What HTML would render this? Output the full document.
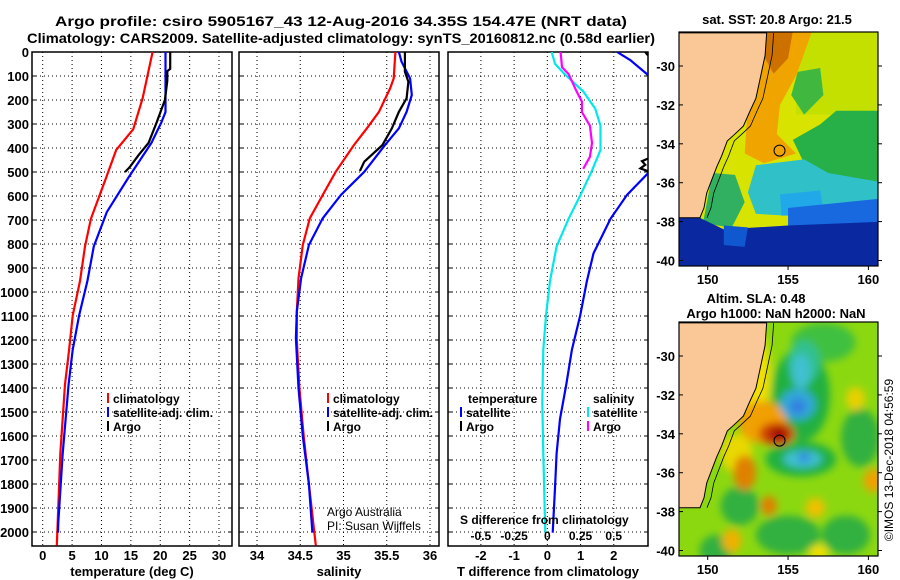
<!DOCTYPE html>
<html><head><meta charset="utf-8">
<style>
html,body{margin:0;padding:0;background:#fff;}
svg{display:block;font-family:"Liberation Sans",sans-serif;}
.b{font-weight:bold;font-size:13px;}
</style></head>
<body>
<svg id="fig" width="900" height="580" viewBox="0 0 900 580" xmlns="http://www.w3.org/2000/svg">
<defs>
<clipPath id="cp1"><rect x="32" y="52" width="200" height="494"/></clipPath>
<clipPath id="cp2"><rect x="239" y="52" width="200" height="494"/></clipPath>
<clipPath id="cp3"><rect x="448" y="52" width="200" height="494"/></clipPath>
<clipPath id="cm1"><rect x="679" y="32" width="199" height="234"/></clipPath>
<clipPath id="cm2"><rect x="679" y="322" width="199" height="234"/></clipPath>
<filter id="blur" x="-20%" y="-20%" width="140%" height="140%"><feGaussianBlur stdDeviation="4"/></filter>
</defs>
<text class="b" x="55" y="26" textLength="572" lengthAdjust="spacingAndGlyphs" style="font-size:14px">Argo profile: csiro 5905167_43 12-Aug-2016 34.35S 154.47E (NRT data)</text>
<text class="b" x="27" y="43" textLength="628" lengthAdjust="spacingAndGlyphs" style="font-size:14px">Climatology: CARS2009. Satellite-adjusted climatology: synTS_20160812.nc (0.58d earlier)</text>
<g id="g1"></g>
<g id="g2"></g>
<g id="g3"></g>
<g id="m1"></g>
<g id="m2"></g>
<text transform="translate(893,460) rotate(-90)" text-anchor="middle" font-size="12">©IMOS 13-Dec-2018 04:56:59</text>
</svg>
<script>
// ---- data ----
const depthTicks=[0,100,200,300,400,500,600,700,800,900,1000,1100,1200,1300,1400,1500,1600,1700,1800,1900,2000];
const tempTicks=[0,5,10,15,20,25,30];
const salTicks=[34,34.5,35,35.5,36];
const tdiffTicks=[-2,-1,0,1,2];
const sdiffTicks=[-0.5,-0.25,0,0.25,0.5];
const sdiffLabels=["-0.5","-0.25","0","0.25","0.5"];

const tDepthClim=[0,193,322,408,523,695,810,954,1098,1241,1385,1673,1960,2056];
const tClim=[18.7,17.0,15.4,12.5,10.8,8.2,7.2,6.35,5.1,4.5,3.8,3.0,2.55,2.4];
const tDepthSat=[0,250,293,379,523,667,810,954,1098,1241,1385,1673,1960,2003];
const tSat=[20.9,20.9,20.2,18.5,14.6,10.9,8.7,7.6,6.2,5.1,4.4,3.4,2.65,2.6];
const tDepthArgo=[0,70,80,120,200,293,379,430,480,500];
const tArgo=[21.7,21.7,21.2,21.2,20.8,19.4,18.0,16.3,14.8,14.0];

const sDepthClim=[0,110,151,249,318,388,499,596,693,804,943,1082,1200,1400,1600,1800,2056];
const sClim=[35.60,35.58,35.54,35.41,35.27,35.12,34.91,34.76,34.61,34.53,34.48,34.46,34.46,34.49,34.54,34.60,34.68];
const sDepthSat=[0,40,110,179,249,318,388,499,596,693,804,943,1082,1193,1400,1600,1800,2003];
const sSat=[35.64,35.67,35.77,35.79,35.73,35.64,35.48,35.24,34.97,34.76,34.60,34.51,34.46,34.45,34.48,34.53,34.60,34.64];
const sDepthArgo=[0,82,124,193,249,318,388,457,496];
const sArgo=[35.71,35.71,35.75,35.73,35.64,35.56,35.45,35.24,35.19];

const dDepthTSat=[0,34,92,193,322,408,501,595,695,839,954,1098,1241,1385,1529,1673,1817,2003];
const dTSat=[2.1,2.5,3.0,3.9,4.8,4.0,3.06,2.4,1.9,1.39,1.19,0.99,0.74,0.57,0.38,0.28,0.23,0.16];
const dDepthTArgoTop=[0,10,20];
const dTArgoTop=[2.95,3.0,3.1];
const dDepthTArgoDeep=[440,455,470,485,500];
const dTArgoDeep=[3.1,2.85,2.95,2.8,3.1];
const dDepthSSat=[0,49,92,164,236,307,408,494,595,695,810,954,1098,1241,1457,1673,2003];
const dSSat=[0.033,0.058,0.13,0.27,0.36,0.40,0.40,0.336,0.25,0.16,0.07,0.02,-0.01,-0.03,-0.038,-0.03,-0.015];
const dDepthSArgo=[0,63,92,164,207,250,307,379,437,487];
const dSArgo=[0.10,0.11,0.16,0.22,0.26,0.26,0.32,0.336,0.32,0.27];

const latTicks=[-30,-32,-34,-36,-38,-40];
const lonTicks=[150,155,160];
const coastLon=[148.2,153.67,153.57,153.25,153.0,152.63,152.22,151.6,151.22,150.87,150.56,150.25,149.94,149.77,149.52,148.2];
const coastLat=[-28.3,-28.3,-29.46,-30.70,-31.66,-32.32,-33.09,-33.57,-33.85,-34.62,-35.19,-35.86,-36.53,-37.29,-37.80,-37.80];
const argoLon=154.47, argoLat=-34.35;

// ---- helpers ----
const NS="http://www.w3.org/2000/svg";
function mk(tag,attrs,parent){const e=document.createElementNS(NS,tag);for(const k in attrs)e.setAttribute(k,attrs[k]);parent.appendChild(e);return e;}
const Y0=52,Y1=546;
function yD(d){return Y0+d*0.24;}

function panel(g,x0,x1,vmin,vmax,ticks,labels,xtitle,cp){
  const sx=v=>x0+(v-vmin)/(vmax-vmin)*(x1-x0);
  depthTicks.forEach(d=>{const y=yD(d);
    const l=mk('line',{x1:x0,x2:x1,y1:y,y2:y,stroke:'#000','stroke-width':1,'stroke-dasharray':'1 3'},g);
    
    
    mk('line',{x1:x0,x2:x0+4,y1:y,y2:y,stroke:'#000'},g);
    mk('line',{x1:x1-4,x2:x1,y1:y,y2:y,stroke:'#000'},g);
  });
  ticks.forEach((v,i)=>{const x=sx(v);
    const l=mk('line',{x1:x,x2:x,y1:Y0,y2:Y1,stroke:'#000','stroke-width':1,'stroke-dasharray':'1 3'},g);
    
    
    const t=mk('text',{x:x,y:560,'text-anchor':'middle',class:'b'},g);
    t.textContent=labels[i];
    
    
  });
  const r=mk('rect',{x:x0,y:Y0,width:x1-x0,height:Y1-Y0,fill:'none',stroke:'#000','stroke-width':1.5},g);
  
  
  const t=mk('text',{x:(x0+x1)/2,y:576,'text-anchor':'middle',class:'b'},g);
  t.textContent=xtitle;
  
  
  return sx;
}
function series(g,sx,depths,vals,color,cp,name,mult){
  mult=mult||1;
  const pts=depths.map((d,i)=>sx(vals[i]*mult).toFixed(1)+','+yD(d).toFixed(1)).join(' ');
  const p=mk('polyline',{points:pts,fill:'none',stroke:color,'stroke-width':2.2,'clip-path':'url(#'+cp+')'},g);
  
  
}
function legend(g,x,y,color,label,name){
  if(color)mk('line',{x1:x,x2:x,y1:y-10,y2:y,stroke:color,'stroke-width':2},g);
  const t=mk('text',{x:x+5,y:y,'font-size':'12px','font-weight':'bold'},g);
  t.textContent=label;
  
  
}

const g1=document.getElementById('g1');
depthTicks.forEach(d=>{const t=mk('text',{x:29,y:yD(d)+5,'text-anchor':'end',class:'b'},g1);
  t.textContent=String(d);
  
  });

const sx1=panel(g1,32,232,-1.82,32.21,tempTicks,tempTicks.map(String),'temperature (deg C)','cp1');
series(g1,sx1,tDepthClim,tClim,'#ff0000','cp1','temp-climatology-line');
series(g1,sx1,tDepthSat,tSat,'#0000ff','cp1','temp-satellite-line');
series(g1,sx1,tDepthArgo,tArgo,'#000000','cp1','temp-argo-line');
legend(g1,108,403,'#ff0000','climatology','legend-climatology');
legend(g1,108,417,'#0000ff','satellite-adj. clim.','legend-satellite');
legend(g1,108,431,'#000','Argo','legend-argo');

const g2=document.getElementById('g2');
const sx2=panel(g2,239,439,33.792,36.104,salTicks,["34","34.5","35","35.5","36"],'salinity','cp2');
series(g2,sx2,sDepthClim,sClim,'#ff0000','cp2','sal-climatology-line');
series(g2,sx2,sDepthSat,sSat,'#0000ff','cp2','sal-satellite-line');
series(g2,sx2,sDepthArgo,sArgo,'#000000','cp2','sal-argo-line');
legend(g2,328,403,'#ff0000','climatology','legend-climatology');
legend(g2,328,417,'#0000ff','satellite-adj. clim.','legend-satellite');
legend(g2,328,431,'#000','Argo','legend-argo');
[['Argo Australia',516],['PI: Susan Wijffels',530]].forEach(a=>{const t=mk('text',{x:327,y:a[1],'font-size':'12px'},g2);
  t.textContent=a[0];
  
  });

const g3=document.getElementById('g3');
const sx3=panel(g3,448,648,-2.99,3.03,tdiffTicks,["-2","-1","0","1","2"],'T difference from climatology','cp3');
series(g3,sx3,dDepthSSat,dSSat,'#00e8e8','cp3','sdiff-satellite-line',4);
series(g3,sx3,dDepthSArgo,dSArgo,'#ff00ff','cp3','sdiff-argo-line',4);
series(g3,sx3,dDepthTSat,dTSat,'#0000ff','cp3','tdiff-satellite-line');
series(g3,sx3,dDepthTArgoTop,dTArgoTop,'#000000','cp3','tdiff-argo-line-top');
series(g3,sx3,dDepthTArgoDeep,dTArgoDeep,'#000000','cp3','tdiff-argo-line-deep');
(function(){const t=mk('text',{x:468,y:403,'font-size':'12px','font-weight':'bold'},g3);t.textContent='temperature';


const s=mk('text',{x:593,y:403,'font-size':'12px','font-weight':'bold'},g3);s.textContent='salinity';

})();
legend(g3,461,417,'#0000ff','satellite','legend-t-satellite');
legend(g3,461,431,'#000','Argo','legend-t-argo');
legend(g3,588,417,'#00e8e8','satellite','legend-s-satellite');
legend(g3,588,431,'#ff00ff','Argo','legend-s-argo');
(function(){const t=mk('text',{x:460,y:524,'font-size':'12px','font-weight':'bold'},g3);t.textContent='S difference from climatology';

})();
sdiffTicks.forEach((v,i)=>{const t=mk('text',{x:sx3(v*4),y:540,'text-anchor':'middle','font-size':'12px','font-weight':'bold'},g3);
  t.textContent=sdiffLabels[i];
  
  });

// ---- maps ----
function map(g,top,cp,title1,drawFn){
  const lx=lon=>707.7+(lon-150)*16.07;
  const ly=lat=>top+34+(-30-lat)*19.45;
  const inner=mk('g',{'clip-path':'url(#'+cp+')'},g);
  drawFn(inner,lx,ly);
  const land=mk('polygon',{points:coastLon.map((v,i)=>lx(v)+','+ly(coastLat[i])).join(' '),fill:'#fac896',stroke:'#000','stroke-width':1},inner);
  
  
  const iso=mk('polyline',{points:coastLon.slice(1,15).map((v,i)=>(lx(v)+7)+','+ly(coastLat[i+1])).join(' '),fill:'none',stroke:'#000','stroke-width':0.8},inner);
  
  
  const c=mk('circle',{cx:lx(argoLon),cy:ly(argoLat),r:5.5,fill:'none',stroke:'#000','stroke-width':1},g);
  
  
  const f=mk('rect',{x:679,y:top,width:199,height:234,fill:'none',stroke:'#000','stroke-width':1.2},g);
  
  
  latTicks.forEach(la=>{const y=ly(la);
    mk('line',{x1:679,x2:683,y1:y,y2:y,stroke:'#000'},g);
    mk('line',{x1:878,x2:882,y1:y,y2:y,stroke:'#000'},g);
    const t=mk('text',{x:675,y:y+5,'text-anchor':'end',class:'b'},g);t.textContent=String(la);
    
    });
  lonTicks.forEach(lo=>{const x=lx(lo);
    mk('line',{x1:x,x2:x,y1:top+234,y2:top+238,stroke:'#000'},g);
    const t=mk('text',{x:x,y:top+252,'text-anchor':'middle',class:'b'},g);t.textContent=String(lo);
    
    });
  title1.forEach(a=>{const t=mk('text',{x:a[1],y:a[2],'text-anchor':'middle',class:'b'},g);t.textContent=a[0];
    
    });
}
function P(g,lx,ly,pts,fill){mk('polygon',{points:pts.map(p=>lx(p[0])+','+ly(p[1])).join(' '),fill:fill},g);}
function E(g,lx,ly,lo,la,rlo,rla,fill){mk('ellipse',{cx:lx(lo),cy:ly(la),rx:rlo*16.07,ry:rla*19.45,fill:fill},g);}

map(document.getElementById('m1'),32,'cm1',[['sat. SST: 20.8 Argo: 21.5',777,24]],(g,lx,ly)=>{
  P(g,lx,ly,[[148,-28],[161,-28],[161,-41],[148,-41]],'#d8e400');
  P(g,lx,ly,[[155.5,-28.2],[161,-28.2],[161,-32.5],[155.5,-32.5]],'#c4e000');
  P(g,lx,ly,[[155.6,-30.3],[157,-30.1],[157.2,-31.5],[156,-32.5],[155.2,-31.5]],'#40b840');
  P(g,lx,ly,[[153.5,-28.2],[156.5,-28.2],[155.5,-30.5],[154.5,-32],[154.3,-33.5],[155.5,-34.5],[153.5,-35],[152.3,-34.5],[152.5,-32],[153.3,-30]],'#f0a400');
  P(g,lx,ly,[[153.6,-28.2],[155.3,-28.2],[155,-29.6],[154.1,-30.4],[153.5,-29.5]],'#cc7000');
  P(g,lx,ly,[[155.3,-33.8],[157,-33],[158,-32.3],[161,-32.3],[161,-37],[157.5,-36.8],[156,-35]],'#28b048');
  P(g,lx,ly,[[153,-35.1],[156,-34.8],[157.5,-35.5],[161,-36],[161,-37.3],[157,-37.5],[155,-37.7],[153,-37.6],[152.5,-36.5]],'#30c0c8');
  P(g,lx,ly,[[154.5,-36.6],[157,-36.4],[157.2,-37.5],[154.6,-37.7]],'#20a8e8');
  P(g,lx,ly,[[155,-37.3],[161,-36.8],[161,-38.5],[155,-38.5]],'#1868e0');
  P(g,lx,ly,[[150.3,-35.5],[151.7,-35.6],[152.3,-37],[151.5,-38.3],[149.7,-38.1]],'#30b060');
  P(g,lx,ly,[[148,-37.8],[149.5,-37.8],[151,-38.4],[155,-38.2],[161,-38],[161,-41],[148,-41]],'#0a28a0');
  P(g,lx,ly,[[151,-38.2],[152.5,-38.3],[152.3,-39.3],[151,-39.2]],'#1058d0');
});
map(document.getElementById('m2'),322,'cm2',[['Altim. SLA: 0.48',756,303],['Argo h1000: NaN h2000: NaN',776,318]],(g,lx,ly)=>{
  P(g,lx,ly,[[148,-28],[161,-28],[161,-41],[148,-41]],'#8cd810');
  const b=mk('g',{filter:'url(#blur)'},g);
  [[157.2,-29.3,2,1,'#40c040'],[155.8,-32,1.8,2.4,'#20b040'],[155.8,-35.3,2.2,0.9,'#20b040'],[152,-37.7,1.2,1,'#30b040'],[155,-39.2,2,1,'#30b040'],[158.6,-39.2,1.5,1,'#30b040'],[159.5,-34.2,1.2,1.5,'#30b040'],[150.5,-40,1,0.8,'#30b040'],
   [152.8,-31,1.1,2.5,'#f0e000'],[151.8,-35,1.0,1.0,'#e8d800'],[153.4,-33.4,1.5,1.1,'#f0a000'],[154.3,-34,1.1,0.6,'#d04000'],[154.4,-34,0.55,0.35,'#a01000'],[152.3,-36,0.7,0.9,'#e08000'],
   [156,-30.3,1,1.1,'#30c090'],[155.8,-30.8,0.6,0.9,'#40c0d0'],[155.6,-32.5,1.1,0.8,'#30a8d8'],[155.6,-32.6,0.5,0.4,'#3080e0'],
   [155.9,-35.3,1.2,0.45,'#40c0d0'],[156,-35.2,0.4,0.3,'#3090e0'],
   [153.8,-37.7,0.5,0.5,'#e08000'],[156.7,-37.8,0.6,0.5,'#f0c000'],[151.5,-39.5,0.6,0.6,'#f0b000'],[160.3,-36.4,0.6,0.6,'#f0a000'],[159.2,-32.2,0.6,0.6,'#e8d000'],[156.9,-40.1,0.6,0.4,'#f0e000']
  ].forEach(a=>E(b,lx,ly,a[0],a[1],a[2],a[3],a[4]));
});
</script>
</body></html>
